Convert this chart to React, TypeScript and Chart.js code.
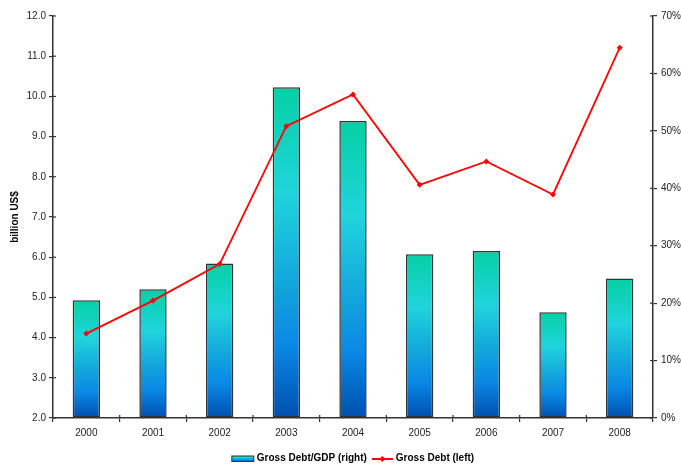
import React, { useEffect, useRef } from "react";
import { Chart, registerables } from "chart.js";

Chart.register(...registerables);

const years = ["2000", "2001", "2002", "2003", "2004", "2005", "2006", "2007", "2008"];
const debtToGdp = [20.5, 22.4, 26.9, 57.6, 51.7, 28.5, 29.1, 18.4, 24.3];
const grossDebt = [4.1, 4.92, 5.83, 9.26, 10.05, 7.8, 8.38, 7.56, 11.21];
const leftTicks = { min: 2, max: 12, step: 1 };
const rightTicks = { min: 0, max: 70, step: 10 };
const barLabel = "Gross Debt/GDP (right)";
const lineLabel = "Gross Debt (left)";

const FONT = "'Liberation Sans', Arial, sans-serif";
const AXIS = "#333333";

function barGradient(ctx: CanvasRenderingContext2D, top: number, bottom: number) {
  const g = ctx.createLinearGradient(0, top, 0, bottom);
  g.addColorStop(0, "#05d0a4");
  g.addColorStop(0.32, "#20d4dc");
  g.addColorStop(0.6, "#12a4dc");
  g.addColorStop(0.78, "#0a88e6");
  g.addColorStop(1, "#004fae");
  return g;
}

const crossTicks = {
  id: "crossTicks",
  afterDatasetsDraw(chart: any) {
    const { ctx, chartArea, scales } = chart;
    ctx.save();
    ctx.strokeStyle = AXIS;
    ctx.lineWidth = 1.2;
    const y = scales.y;
    y.ticks.forEach((_t: any, i: number) => {
      const p = y.getPixelForTick(i);
      ctx.beginPath();
      ctx.moveTo(chartArea.left, p);
      ctx.lineTo(chartArea.left + 3, p);
      ctx.stroke();
    });
    const y2 = scales.y2;
    y2.ticks.forEach((_t: any, i: number) => {
      const p = y2.getPixelForTick(i);
      ctx.beginPath();
      ctx.moveTo(chartArea.right, p);
      ctx.lineTo(chartArea.right - 3, p);
      ctx.stroke();
    });
    const x = scales.x;
    for (let i = 1; i < years.length; i++) {
      const p = (x.getPixelForValue(i - 1) + x.getPixelForValue(i)) / 2;
      ctx.beginPath();
      ctx.moveTo(p, chartArea.bottom);
      ctx.lineTo(p, chartArea.bottom - 3);
      ctx.stroke();
    }
    ctx.restore();
  },
};

const customLegend = {
  id: "customLegend",
  afterDraw(chart: any) {
    const { ctx, chartArea } = chart;
    ctx.save();
    ctx.font = `bold 10px ${FONT}`;
    ctx.textBaseline = "middle";
    ctx.fillStyle = "#000";
    const ds = chart.data.datasets;
    const t1 = ds[0].label;
    const t2 = ds[1].label;
    const w1 = ctx.measureText(t1).width;
    const w2 = ctx.measureText(t2).width;
    const total = 22 + 3 + w1 + 5 + 21 + 3 + w2;
    let x = (chartArea.left + chartArea.right) / 2 - total / 2;
    const cy = 458.5;
    // bar icon
    ctx.fillStyle = barGradient(ctx, cy - 3, cy + 3);
    ctx.fillRect(x, cy - 2.5, 22, 5.5);
    ctx.strokeStyle = AXIS;
    ctx.lineWidth = 1;
    ctx.strokeRect(x, cy - 2.5, 22, 5.5);
    x += 22 + 3;
    ctx.fillStyle = "#000";
    ctx.fillText(t1, x, cy);
    x += w1 + 5;
    // line icon
    ctx.strokeStyle = "#ff0000";
    ctx.lineWidth = 2;
    ctx.beginPath();
    ctx.moveTo(x, cy + 0.5);
    ctx.lineTo(x + 21, cy + 0.5);
    ctx.stroke();
    ctx.fillStyle = "#ff0000";
    ctx.beginPath();
    const mx = x + 10.5;
    ctx.moveTo(mx, cy - 2.5);
    ctx.lineTo(mx + 3, cy + 0.5);
    ctx.lineTo(mx, cy + 3.5);
    ctx.lineTo(mx - 3, cy + 0.5);
    ctx.closePath();
    ctx.fill();
    x += 21 + 3;
    ctx.fillStyle = "#000";
    ctx.fillText(t2, x, cy);
    ctx.restore();
  },
};

export default function App() {
  const ref = useRef<HTMLCanvasElement>(null);
  useEffect(() => {
    const canvas = ref.current;
    if (!canvas) return;
    const chart = new Chart(canvas, {
      type: "bar",
      data: {
        labels: years,
        datasets: [
          {
            type: "bar",
            label: barLabel,
            data: debtToGdp,
            yAxisID: "y2",
            order: 2,
            barPercentage: 0.41,
            categoryPercentage: 1,
            borderColor: AXIS,
            borderWidth: 1.5,
            borderSkipped: false,
            backgroundColor: (c: any) => {
              const ch = c.chart;
              const s = ch.scales && ch.scales.y2;
              if (!ch.chartArea || !s || c.type !== "data") return "#1ab";
              const top = s.getPixelForValue(c.raw);
              const bottom = s.getPixelForValue(0);
              return barGradient(ch.ctx, top, bottom);
            },
          } as any,
          {
            type: "line",
            label: lineLabel,
            data: grossDebt,
            yAxisID: "y",
            order: 1,
            borderColor: "#ff0000",
            backgroundColor: "#ff0000",
            borderWidth: 1.8,
            pointStyle: "rectRot",
            pointRadius: 3,
            pointBorderWidth: 0,
            tension: 0,
          } as any,
        ],
      },
      options: {
        animation: false,
        responsive: false,
        maintainAspectRatio: false,
        layout: { padding: { top: 16, left: 0, right: 0, bottom: 0 } },
        plugins: {
          legend: { display: false },
          tooltip: { enabled: false },
        },
        scales: {
          x: {
            offset: true,
            grid: { drawOnChartArea: false, offset: true, tickLength: 4, color: AXIS, lineWidth: 1.2 },
            border: { color: AXIS, width: 1.5 },
            ticks: { color: "#222", font: { family: FONT, size: 10 }, padding: 5, maxRotation: 0 },
            afterFit: (s: any) => {
              s.height = 469 - 418;
            },
          },
          y: {
            position: "left",
            min: leftTicks.min,
            max: leftTicks.max,
            grid: { drawOnChartArea: false, tickLength: 4, color: AXIS, lineWidth: 1.2 },
            border: { color: AXIS, width: 1.5 },
            ticks: {
              stepSize: leftTicks.step,
              color: "#222",
              font: { family: FONT, size: 10 },
              padding: 3,
              callback: (v: any) => Number(v).toFixed(1),
            },
            title: {
              display: true,
              text: "billion US$",
              color: "#000",
              font: { family: FONT, size: 10, weight: "bold" },
              padding: { top: 9, bottom: 0 },
            },
            afterFit: (s: any) => {
              s.width = 53;
            },
          },
          y2: {
            position: "right",
            min: rightTicks.min,
            max: rightTicks.max,
            grid: { drawOnChartArea: false, tickLength: 4, color: AXIS, lineWidth: 1.2 },
            border: { color: AXIS, width: 1.5 },
            ticks: {
              stepSize: rightTicks.step,
              color: "#222",
              font: { family: FONT, size: 10 },
              padding: 4,
              callback: (v: any) => `${v}%`,
            },
            afterFit: (s: any) => {
              s.width = 681 - 653;
            },
          },
        },
      } as any,
      plugins: [crossTicks, customLegend],
    });
    return () => chart.destroy();
  }, []);
  return (
    <div style={{ position: "absolute", left: 0, top: 0, width: 681, height: 469, background: "#fff" }}>
      <canvas ref={ref} width={681} height={469} style={{ display: "block", width: 681, height: 469 }} />
    </div>
  );
}
